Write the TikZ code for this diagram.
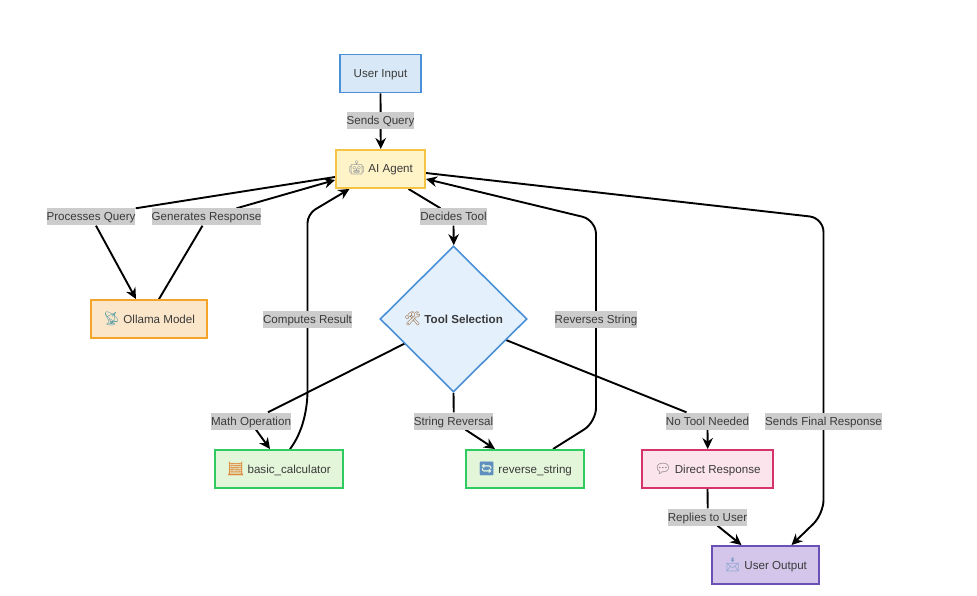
\documentclass[tikz,border=0pt]{standalone}
\usepackage{fontspec}
\setmainfont{Liberation Sans}
\newfontfamily\emo{Noto Emoji}
\usetikzlibrary{shapes.geometric,arrows.meta,backgrounds,calc}
\definecolor{ink}{HTML}{3A3A3A}
\definecolor{bluefill}{HTML}{D8E8F6}\definecolor{blueline}{HTML}{4A90D9}
\definecolor{yelfill}{HTML}{FFF3C8}\definecolor{yelline}{HTML}{F6C445}
\definecolor{orafill}{HTML}{FBE6CA}\definecolor{oraline}{HTML}{F5A42A}
\definecolor{grnfill}{HTML}{E3F6DA}\definecolor{grnline}{HTML}{2FCB60}
\definecolor{pnkfill}{HTML}{FCE4EC}\definecolor{pnkline}{HTML}{D6336C}
\definecolor{purfill}{HTML}{D3C6EA}\definecolor{purline}{HTML}{6A4FB5}
\definecolor{diafill}{HTML}{E4F0FC}
\definecolor{labgray}{HTML}{CCCCCC}
\newcommand{\emj}[2]{{\fontsize{13.5pt}{13pt}\emo\textcolor[HTML]{#1}{#2}}}
\tikzset{
  x=1pt,y=-1pt,
  every node/.style={font=\fontsize{11.6pt}{13pt}\selectfont,text=ink,text height=10pt,text depth=2pt},
  box/.style={draw,line width=1.9pt,inner sep=0pt,minimum height=38pt},
  inputbox/.style={box,fill=bluefill,draw=blueline,minimum width=80.4pt},
  agentbox/.style={box,fill=yelfill,draw=yelline,minimum width=89pt},
  modelbox/.style={box,fill=orafill,draw=oraline,minimum width=116pt},
  toolbox/.style={box,fill=grnfill,draw=grnline},
  replybox/.style={box,fill=pnkfill,draw=pnkline,minimum width=131pt},
  outbox/.style={box,fill=purfill,draw=purline,minimum width=107pt},
  choice/.style={diamond,draw=blueline,fill=diafill,line width=1.6pt,inner sep=0pt,minimum width=147pt,minimum height=146pt},
  lab/.style={fill=labgray,inner xsep=0pt,inner ysep=0pt,minimum height=17pt},
  edge/.style={draw=black,line width=1.9pt,rounded corners=14pt},
  arr/.style={edge,-{Stealth[length=11pt,width=10.5pt]}},
}
\begin{document}
\begin{tikzpicture}
\useasboundingbox (0,0) rectangle (977,596);
% nodes
\node[inputbox] (input) at (380.5,73.5) {User Input};
\node[agentbox] (agent) at (380.5,169) {\emj{8A8F98}{🤖} AI Agent};
\node[modelbox] (model) at (149,319) {\emj{5B9EA6}{📡} Ollama Model};
\node[choice] (tool) at (453.5,319) {\emj{9A6B3F}{🛠} \textbf{Tool Selection}};
\node[toolbox,minimum width=128pt] (calc) at (279,469) {\emj{E08A3C}{🧮} basic\_calculator};
\node[toolbox,minimum width=118pt] (rev) at (525,469) {\emj{5E8FBF}{🔄} reverse\_string};
\node[replybox] (direct) at (707.5,469) {\emj{6E6E6E}{💬} Direct Response};
\node[outbox] (output) at (765.5,565) {\emj{7F9CCB}{📩} User Output};
% edge labels
\node[lab] (lquery) at (380.5,121) {Sends Query};
\node[lab] (lproc) at (91,217) {Processes Query};
\node[lab] (lgen) at (206.5,217) {Generates Response};
\node[lab] (ldec) at (453.5,217) {Decides Tool};
\node[lab] (lcomp) at (307.5,319) {Computes Result};
\node[lab] (lrevs) at (596,319) {Reverses String};
\node[lab] (lmath) at (251,421) {Math Operation};
\node[lab] (lstr) at (453.5,421) {String Reversal};
\node[lab] (lnone) at (707.5,421) {No Tool Needed};
\node[lab] (lfinal) at (823.5,421) {Sends Final Response};
\node[lab] (lrep) at (707.5,517) {Replies to User};
% bend points of the long connectors
\coordinate (cl) at (307.5,214);
\coordinate (cb) at (307.5,400);
\coordinate (cc) at (306,428);
\coordinate (rt) at (596,220);
\coordinate (rb) at (596,422);
\coordinate (ft) at (823.5,218);
\coordinate (fb) at (823.5,514);
\begin{scope}[on background layer]
\fill[white] (0,0) rectangle (977,596);
\draw[arr] (input.south) -- ([xshift=0.25pt]agent.north);
\draw[edge] (lproc.north east) -- ([yshift=-8pt]agent.west);
\draw[arr] ([xshift=5pt]lproc.south) -- ([xshift=-13pt]model.north);
\draw[edge] ([xshift=10pt]model.north) -- ([xshift=-4pt]lgen.south);
\draw[arr] ([xshift=30pt]lgen.north) -- ([yshift=-11pt]agent.west);
\draw[arr,rounded corners=9pt] ([xshift=11pt]calc.north) .. controls (cc) and (cb) .. (cb) -- (cl) -- ([xshift=-31pt]agent.south);
\draw[edge] ([xshift=28pt]agent.south) -- ([xshift=-13pt]ldec.north);
\draw[arr] (ldec.south) -- ([xshift=0.25pt]tool.north);
\draw[arr] ([xshift=28pt]rev.north) -- (rb) -- (rt) -- ([yshift=-10pt]agent.east);
\draw[arr] ([yshift=-4pt]agent.east) -- (ft) -- (fb) -- ([xshift=26pt]output.north);
\draw[edge] (tool.center) -- ([xshift=17pt]lmath.north);
\draw[arr] ([xshift=5pt]lmath.south) -- ([xshift=-9pt]calc.north);
\draw[edge] (tool.south) -- ([xshift=0.25pt]lstr.north);
\draw[arr] ([xshift=12pt]lstr.south) -- ([xshift=-30pt]rev.north);
\draw[edge] (tool.center) -- ([xshift=-21pt]lnone.north);
\draw[arr] (lnone.south) -- ([xshift=0.25pt]direct.north);
\draw[edge] (direct.south) -- ([xshift=0.25pt]lrep.north);
\draw[arr] ([xshift=10pt]lrep.south) -- ([xshift=-24pt]output.north);
\end{scope}
\end{tikzpicture}
\end{document}
